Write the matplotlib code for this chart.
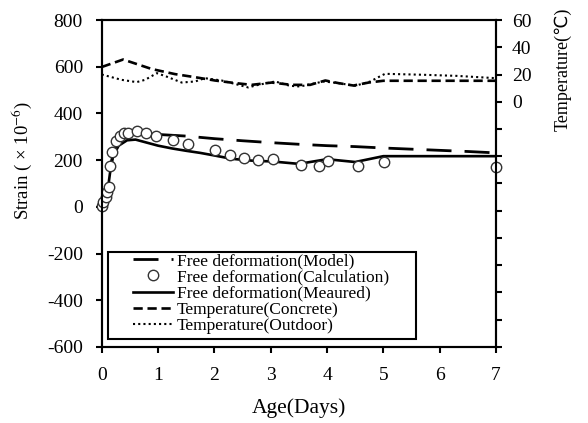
import numpy as np
import matplotlib
matplotlib.use('Agg')
import matplotlib.pyplot as plt
from matplotlib.patches import Rectangle

plt.rcParams['font.family'] = ['Liberation Serif', 'DejaVu Sans']
plt.rcParams['mathtext.fontset'] = 'stix'
plt.rcParams['axes.unicode_minus'] = False

# strain series (x10^-6) against age in days
days_model = [0, 0.05, 0.1, 0.15, 0.2, 0.3, 0.45, 0.7, 1.0, 1.5, 2.0, 2.5, 3.0, 3.5, 4.0, 4.5, 5.0, 5.5, 6.0, 6.5, 7.0]
strain_model = [0, 25, 80, 170, 225, 290, 316, 315, 310, 303, 292, 283, 275, 268, 262, 258, 252, 247, 242, 237, 231]

days_calc = [0.0, 0.03, 0.07, 0.1, 0.13, 0.15, 0.19, 0.25, 0.33, 0.4, 0.47, 0.62, 0.78, 0.97,
             1.27, 1.54, 2.01, 2.28, 2.53, 2.78, 3.04, 3.54, 3.85, 4.02, 4.55, 5.02, 7.0]
strain_calc = [5, 19, 41, 62, 87, 175, 235, 280, 304, 316, 318, 323, 316, 304,
               288, 271, 242, 224, 210, 200, 203, 181, 177, 196, 175, 190, 170]

days_meas = [0, 0.05, 0.1, 0.15, 0.2, 0.3, 0.45, 0.6, 0.8, 1.0, 1.25, 1.5, 1.75, 2.0, 2.3, 2.75, 3.0, 3.5, 4.0, 4.5, 5.0, 7.0]
strain_meas = [0, 20, 60, 150, 215, 262, 285, 288, 275, 262, 250, 240, 231, 220, 206, 196, 195, 184, 204, 192, 217, 217]

# temperatures (deg C)
days_tc = [0, 0.38, 0.89, 1.3, 1.66, 2.01, 2.37, 2.66, 3.02, 3.37, 3.7, 3.97, 4.2, 4.47, 4.74, 5.0, 7.0]
temp_concrete = [25.5, 31, 24, 20.3, 18, 15.6, 13.7, 12.4, 14.1, 12.4, 12.4, 15.6, 13.7, 11.9, 14.1, 15.4, 15.4]

days_to = [0.0, 0.35, 0.62, 0.77, 0.98, 1.15, 1.42, 1.66, 1.83, 2.13, 2.43, 2.6, 2.78, 3.08, 3.34, 3.52,
           3.94, 4.2, 4.5, 4.77, 4.91, 5.03, 5.71, 6.3, 7.0]
temp_outdoor = [20, 16.1, 14.4, 16.1, 21, 18.5, 14.1, 14.9, 17.3, 15.6, 12.4, 10.5, 12.4, 14.9, 11.7, 11.2,
                14.9, 13.7, 11.7, 14.9, 18, 20.5, 19.8, 19, 17.3]

fig = plt.figure(figsize=(5.88, 4.23), dpi=100)
ax = fig.add_axes([0.173, 0.1797, 0.6705, 0.773])
ax2 = ax.twinx()

ax.plot(days_model, strain_model, color='black', lw=2.0, dashes=(9, 4.7),
        label='Free deformation(Model)', zorder=2)
ax.plot(days_meas, strain_meas, color='black', lw=1.9,
        label='Free deformation(Meaured)', zorder=2)
ax.plot(days_calc, strain_calc, 'o', ms=7.5, mfc='white', mec='#333333', mew=1.0,
        label='Free deformation(Calculation)', zorder=3, clip_on=False)

ax2.plot(days_tc, temp_concrete, color='black', lw=1.9, dashes=(3.5, 1.8),
         label='Temperature(Concrete)')
ax2.plot(days_to, temp_outdoor, color='black', lw=1.5, dashes=(1, 1.5),
         label='Temperature(Outdoor)')

ax.set_xlim(0, 7)
ax.set_ylim(-600, 800)
ax.set_xticks(range(0, 8))
ax.set_yticks(range(-600, 801, 200))
ax2.set_ylim(-180, 60)
ax2.set_yticks(range(-180, 61, 20))
ax2.set_yticklabels([str(v) if v >= 0 else '' for v in range(-180, 61, 20)])

for a in (ax, ax2):
    for s in a.spines.values():
        s.set_linewidth(1.5)
ax.tick_params(axis='both', direction='out', length=4.5, width=1.5, labelsize=14)
ax.tick_params(axis='x', pad=10)
ax.tick_params(axis='y', pad=9)
ax2.tick_params(axis='y', direction='out', length=4.5, width=1.5, labelsize=14, pad=7)

ax.set_xlabel('Age(Days)', fontsize=15.5, labelpad=10)
ax.set_ylabel('Strain ( × 10$^{-6}$)', fontsize=13.5)
ax.yaxis.set_label_coords(-0.172, 0.57)
ax2.set_ylabel('Temperature(℃)', fontsize=13)
ax2.yaxis.set_label_coords(1.148, 0.85)

handles, labels = [], []
for a in (ax, ax2):
    h, l = a.get_legend_handles_labels()
    handles += h
    labels += l
order = [0, 2, 1, 3, 4]
leg = ax2.legend([handles[i] for i in order], [labels[i] for i in order],
                 loc='upper left', bbox_to_anchor=(0.079, 0.287), borderaxespad=0,
                 borderpad=0, frameon=False, fontsize=12.5, labelspacing=0.0,
                 handlelength=2.3, handletextpad=0.25)
ax2.add_patch(Rectangle((0.016, 0.024), 0.781, 0.266, transform=ax2.transAxes,
                        fill=False, ec='black', lw=1.5, zorder=5))

fig.savefig('out.png', dpi=100)
